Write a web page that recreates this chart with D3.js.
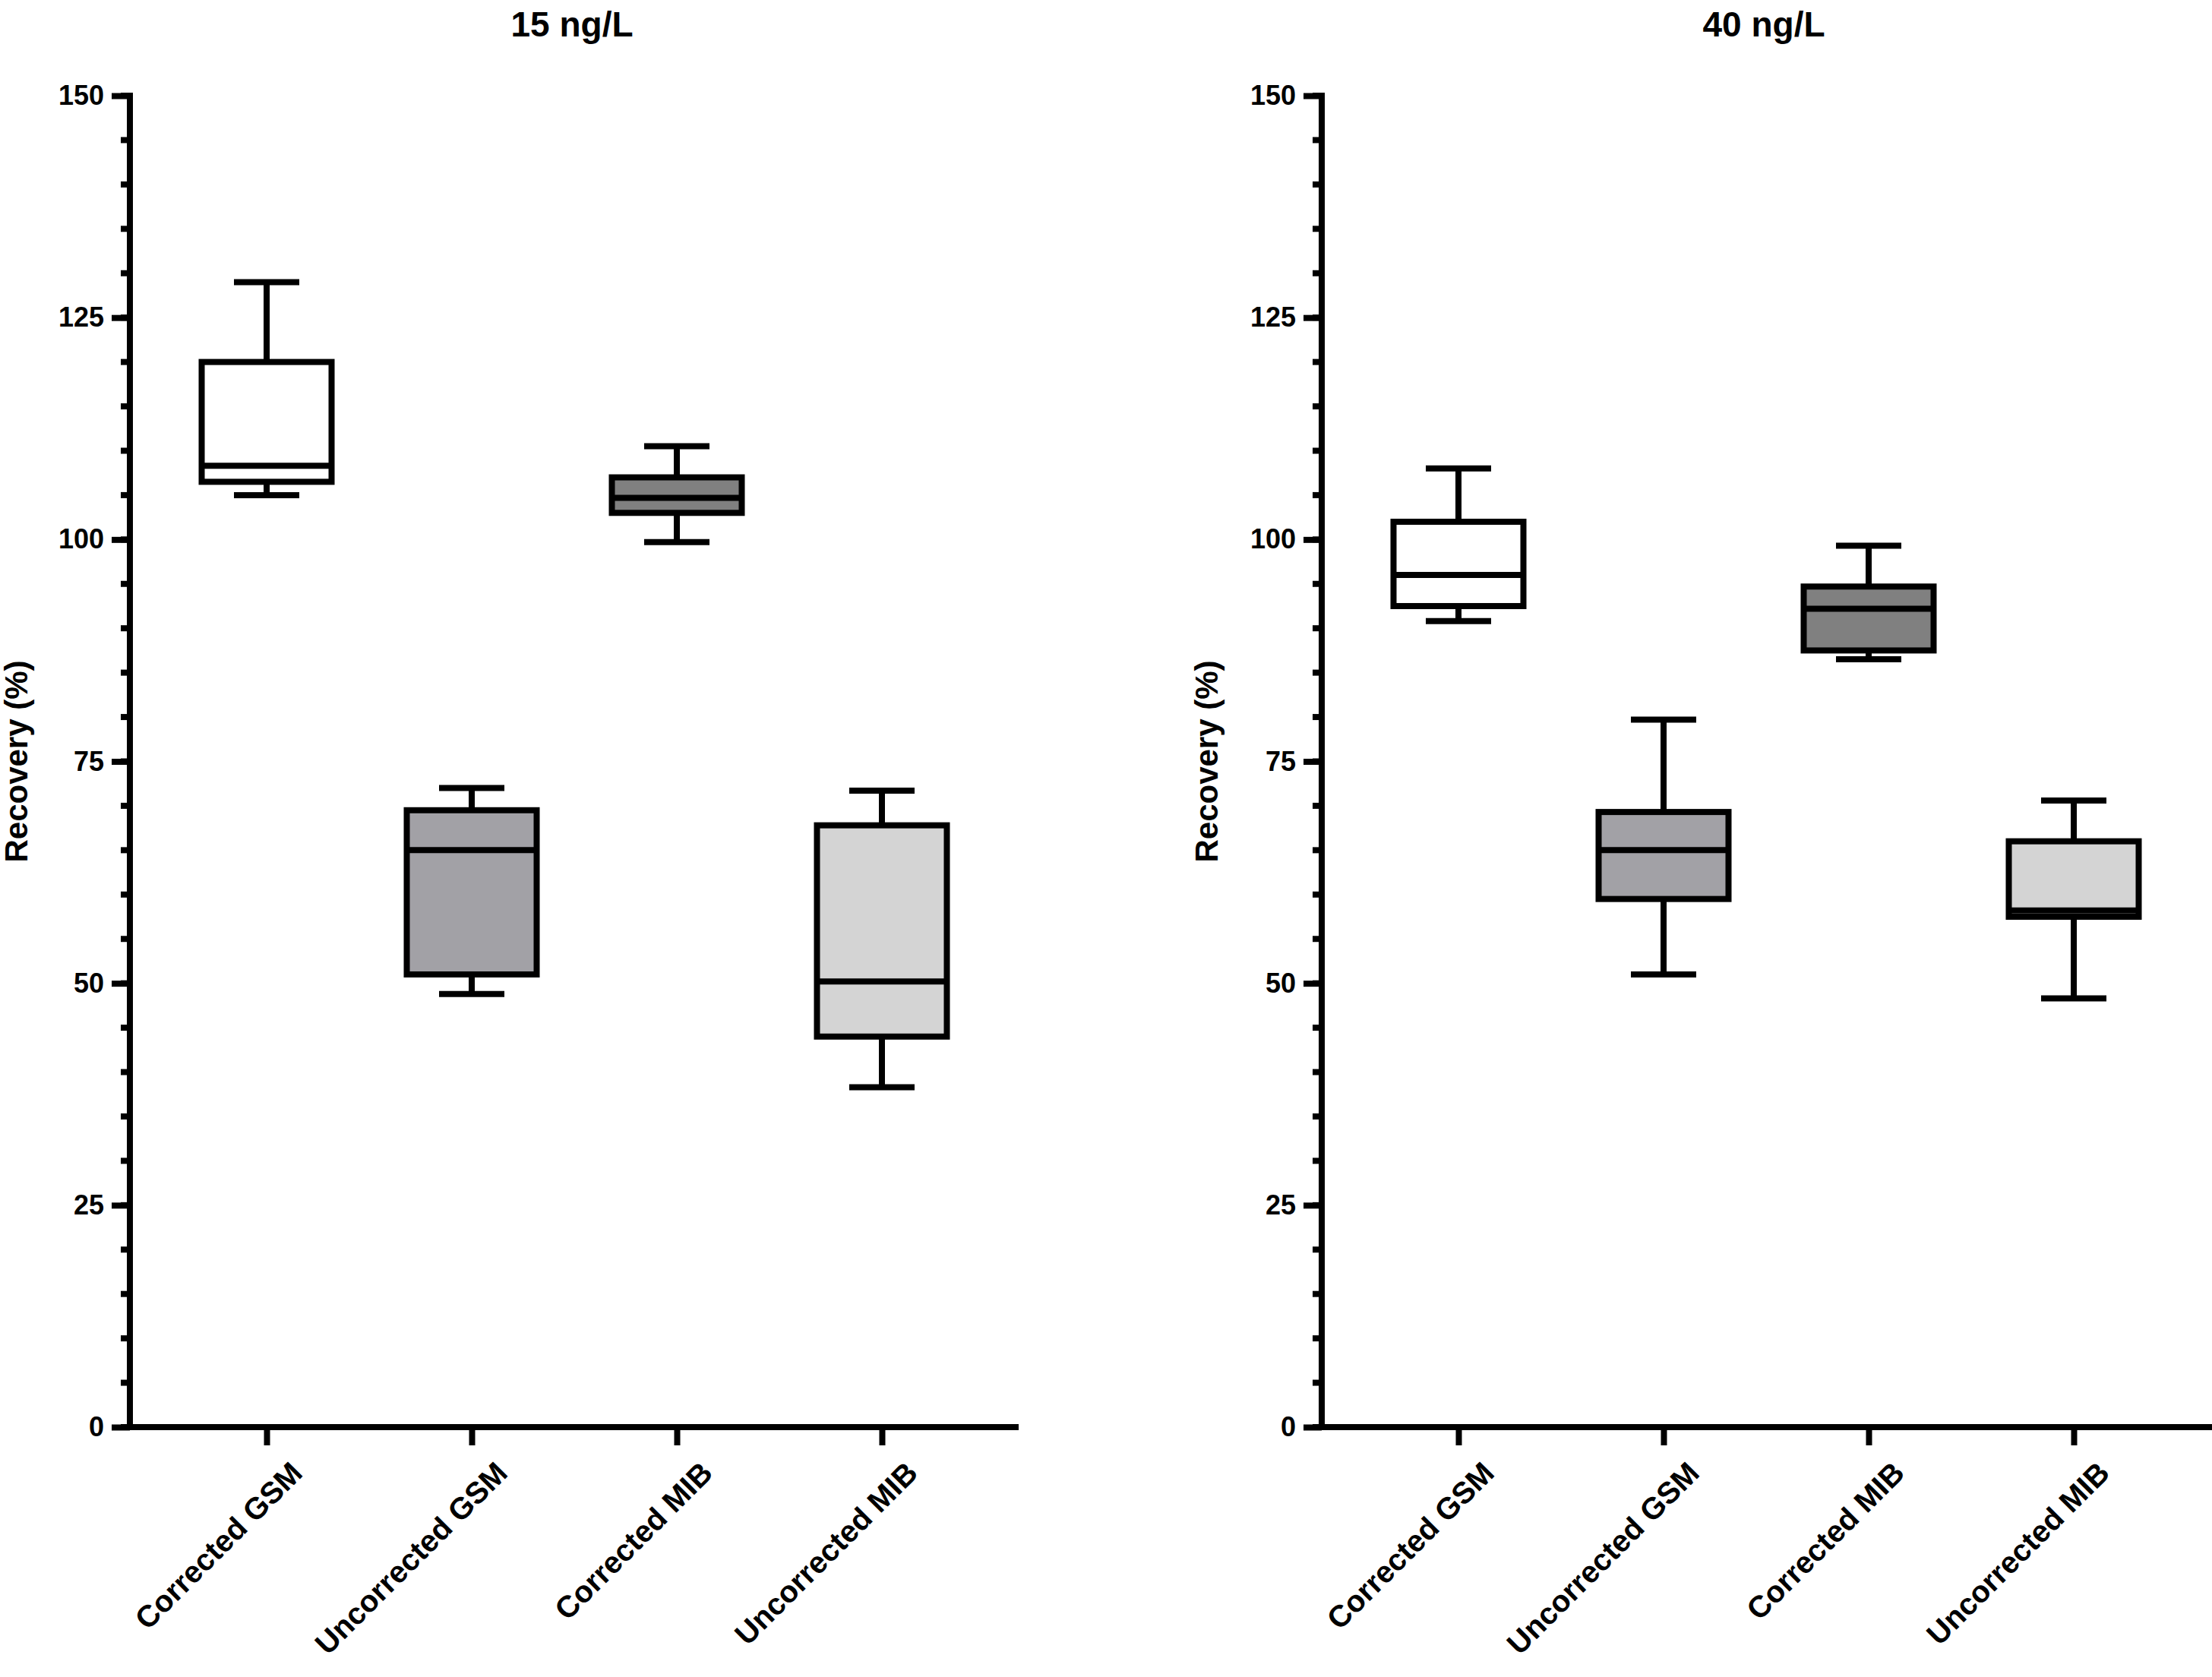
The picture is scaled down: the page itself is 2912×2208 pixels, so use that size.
<!DOCTYPE html><html><head><script src="https://cdn.jsdelivr.net/npm/d3@7"></script>
<style>body{margin:0;background:#fff}</style></head><body><script>
const categories=["Corrected GSM","Uncorrected GSM","Corrected MIB","Uncorrected MIB"];
const fills=["#ffffff","#a2a1a6","#808080","#d4d4d4"];
const titles=["15 ng/L","40 ng/L"];
const yTicks=[0,25,50,75,100,125,150];
// [min,q1,median,q3,max]
const panel15=[[105,106.5,108.3,120,129],[48.8,51,65,69.5,72],[99.7,103,104.7,107,110.5],[38.3,44,50.2,67.8,71.7]];
const panel40=[[90.8,92.5,96,102,108],[51,59.5,65,69.3,79.7],[86.5,87.5,92.2,94.7,99.3],[48.3,57.5,58.2,66,70.6]];
const panels=[panel15,panel40];
const W=2912,H=2208;
const svg=d3.select("body").append("svg").attr("width",W).attr("height",H).style("font-family","Liberation Sans, Arial, sans-serif");
const layouts=[{ax:171,xe:1341,ylab:26},{ax:1740,xe:2912,ylab:1593}];
const y=d3.scaleLinear().domain([0,150]).range([1879,126]);
const sw=8;
panels.forEach((data,p)=>{
 const L=layouts[p];
 const x=d3.scalePoint().domain(categories).range([L.ax+180,L.ax+990]);
 const g=svg.append("g");
 g.selectAll(".mn").data(d3.range(0,151,5)).join("line").attr("x1",L.ax).attr("x2",L.ax-12).attr("y1",d=>y(d)).attr("y2",d=>y(d)).attr("stroke","#000").attr("stroke-width",sw);
 const ya=g.append("g").attr("transform",`translate(${L.ax},0)`).call(d3.axisLeft(y).tickValues(yTicks).tickSize(24).tickPadding(10));
 ya.select(".domain").attr("stroke-width",sw).attr("d",`M0,${y(150)-4}V${y(0)+4}`);
 ya.selectAll(".tick line").attr("stroke-width",sw);
 ya.selectAll("text").attr("font-size",36).attr("font-weight","bold").attr("fill","#000");
 const xa=g.append("g").attr("transform",`translate(0,${y(0)})`).call(d3.axisBottom(x).tickSize(24).tickSizeOuter(0));
 xa.select(".domain").attr("stroke-width",sw).attr("d",`M${L.ax},0H${L.xe}`);
 xa.selectAll(".tick line").attr("stroke-width",sw);
 xa.selectAll("text").attr("font-size",40).attr("font-weight","bold").attr("fill","#000").attr("text-anchor","end").attr("transform","translate(10,24) rotate(-45)").attr("dy","0.7em").attr("dx","0");
 const bw=171, cw=86;
 data.forEach((d,i)=>{
  const cx=x(categories[i]);
  const bg=g.append("g").attr("stroke","#000").attr("stroke-width",sw);
  bg.append("line").attr("x1",cx).attr("x2",cx).attr("y1",y(d[4])).attr("y2",y(d[3]));
  bg.append("line").attr("x1",cx).attr("x2",cx).attr("y1",y(d[1])).attr("y2",y(d[0]));
  bg.append("line").attr("x1",cx-cw/2).attr("x2",cx+cw/2).attr("y1",y(d[4])).attr("y2",y(d[4]));
  bg.append("line").attr("x1",cx-cw/2).attr("x2",cx+cw/2).attr("y1",y(d[0])).attr("y2",y(d[0]));
  bg.append("rect").attr("x",cx-bw/2).attr("width",bw).attr("y",y(d[3])).attr("height",y(d[1])-y(d[3])).attr("fill",fills[i]);
  bg.append("line").attr("x1",cx-bw/2).attr("x2",cx+bw/2).attr("y1",y(d[2])).attr("y2",y(d[2]));
 });
 svg.append("text").attr("x",L.ax+582).attr("y",48).attr("text-anchor","middle").attr("font-size",46).attr("font-weight","bold").text(titles[p]);
 svg.append("text").attr("transform",`translate(${L.ylab+10},${y(75)}) rotate(-90)`).attr("text-anchor","middle").attr("font-family","Liberation Sans Narrow, Liberation Sans, sans-serif").attr("font-size",42).attr("font-weight","bold").text("Recovery (%)");
});
</script></body></html>
